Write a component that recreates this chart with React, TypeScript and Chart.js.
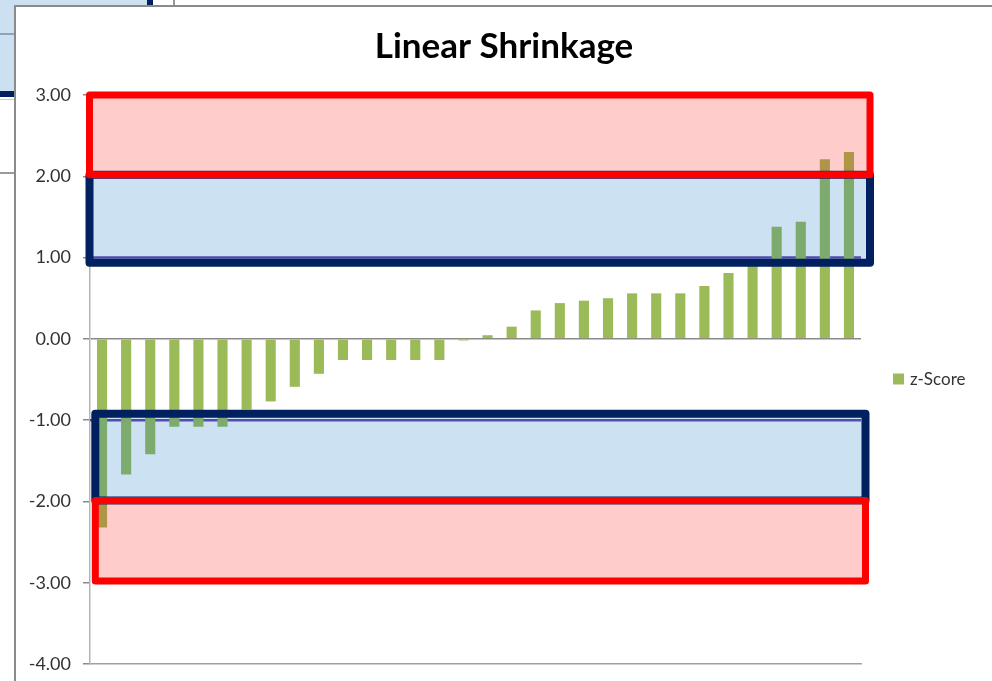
import React, { useEffect, useRef } from "react";
import { Chart, registerables } from "chart.js";

Chart.register(...registerables);

// Samples ordered by z-score
const categories = [
  "1", "2", "3", "4", "5", "6", "7", "8", "9", "10", "11", "12", "13", "14", "15", "16",
  "17", "18", "19", "20", "21", "22", "23", "24", "25", "26", "27", "28", "29", "30", "31", "32",
];
const zScores = [
  -2.32, -1.67, -1.42, -1.08, -1.08, -1.08, -0.87, -0.77, -0.59, -0.43, -0.26, -0.26, -0.26, -0.26,
  -0.26, -0.02, 0.045, 0.15, 0.35, 0.44, 0.47, 0.5, 0.56, 0.56, 0.56, 0.65, 0.81, 0.92, 1.38, 1.44,
  2.21, 2.3,
];
const yTicks = [3, 2, 1, 0, -1, -2, -3, -4];
const thresholds = [1, -1];
const chartTitle = "Linear Shrinkage";
const seriesName = "z-Score";

// Warning (|z| 1..2) and action (|z| 2..3) bands
const bandLow = [0.935, 2.02, -1.99, -2.98];
const bandHigh = [2.02, 3.0, -0.92, -1.99];
const bandKind = ["warn", "action", "warn", "action"];

const GREEN = "#9BBB59";
const FONT = "Lato, 'Open Sans', sans-serif";

const bandStyle: Record<string, { fill: string; stroke: string; width: number }> = {
  warn: { fill: "rgba(0,112,192,0.2)", stroke: "#002060", width: 8 },
  action: { fill: "rgba(255,0,0,0.2)", stroke: "#FF0000", width: 7 },
};

const overlayPlugin = {
  id: "bandsAndLegend",
  beforeDatasetsDraw(chart: any) {
    const { ctx, chartArea, scales } = chart;
    const y = scales.y;
    ctx.save();
    ctx.strokeStyle = "#6645AA";
    ctx.lineWidth = 2.5;
    thresholds.forEach((t) => {
      const py = y.getPixelForValue(t);
      ctx.beginPath();
      ctx.moveTo(chartArea.left, py);
      ctx.lineTo(chartArea.right, py);
      ctx.stroke();
    });
    ctx.restore();
  },
  afterDatasetsDraw(chart: any) {
    const { ctx, chartArea, scales } = chart;
    const y = scales.y;
    ctx.save();
    bandLow.forEach((lo, i) => {
      const st = bandStyle[bandKind[i]];
      const upper = lo > 0;
      const x0 = chartArea.left + (upper ? -0.5 : 5.3);
      const x1 = chartArea.right + (upper ? 9 : 4.5);
      const yTop = y.getPixelForValue(bandHigh[i]);
      const yBot = y.getPixelForValue(lo);
      ctx.fillStyle = st.fill;
      ctx.fillRect(x0, yTop, x1 - x0, yBot - yTop);
      ctx.strokeStyle = st.stroke;
      ctx.lineWidth = st.width;
      ctx.lineJoin = "round";
      ctx.strokeRect(x0, yTop, x1 - x0, yBot - yTop);
    });
    ctx.restore();

    // title, centred on the whole chart window
    ctx.save();
    ctx.fillStyle = "#000";
    ctx.font = `bold 35px ${FONT}`;
    ctx.textAlign = "center";
    ctx.textBaseline = "middle";
    ctx.fillText(chartTitle, chart.width / 2, 40);
    ctx.restore();

    // legend
    const cy = (chartArea.top + chartArea.bottom) / 2;
    const lx = chartArea.right + 32;
    ctx.save();
    ctx.fillStyle = GREEN;
    ctx.fillRect(lx, cy - 6, 11, 11);
    ctx.fillStyle = "#333";
    ctx.font = `17px ${FONT}`;
    ctx.textBaseline = "middle";
    ctx.textAlign = "left";
    ctx.fillText(seriesName, lx + 17, cy);
    ctx.restore();
  },
};

function ShrinkageChart() {
  const ref = useRef<HTMLCanvasElement | null>(null);
  useEffect(() => {
    if (!ref.current) return;
    const chart = new Chart(ref.current, {
      type: "bar",
      data: {
        labels: categories,
        datasets: [
          {
            label: seriesName,
            data: zScores,
            backgroundColor: GREEN,
            borderWidth: 0,
            barPercentage: 0.42,
            categoryPercentage: 1,
          },
        ],
      },
      options: {
        responsive: false,
        animation: false,
        layout: { padding: { left: 0, right: 131, top: 88, bottom: 17 } },
        plugins: {
          legend: { display: false },
          tooltip: { enabled: false },
          title: { display: false },
        },
        scales: {
          x: {
            ticks: { display: false },
            grid: { display: false, drawTicks: false },
            border: { display: true, color: "#A0A0A0", width: 1.5 },
            afterFit(scale: any) {
              scale.height = 0;
              scale.paddingLeft = 0;
              scale.paddingRight = 0;
            },
          },
          y: {
            min: -4,
            max: 3,
            afterFit(scale: any) {
              scale.width = 74;
              scale.paddingTop = 0;
              scale.paddingBottom = 0;
            },
            afterBuildTicks(scale: any) {
              scale.ticks = yTicks.map((v) => ({ value: v }));
            },
            ticks: {
              color: "#333",
              font: { family: FONT, size: 18 },
              padding: 12,
              callback: (v: any) => Number(v).toFixed(2),
            },
            grid: {
              drawOnChartArea: true,
              color: (c: any) => (c.tick && c.tick.value === 0 ? "#8A8A8A" : "rgba(0,0,0,0)"),
              tickColor: "#8A8A8A",
              tickLength: 7,
              lineWidth: 1.5,
            },
            border: { display: true, color: "#B4B4B4", width: 1.5 },
          },
        },
      },
      plugins: [overlayPlugin],
    });
    return () => chart.destroy();
  }, []);
  return <canvas ref={ref} width={976} height={674} style={{ display: "block" }} />;
}

const abs = (s: React.CSSProperties): React.CSSProperties => ({ position: "absolute", ...s });

export default function App() {
  return (
    <div style={abs({ position: "fixed", left: 0, top: 0, width: 992, height: 681, background: "#fff", overflow: "hidden" })}>
      {/* worksheet behind the chart window */}
      <div style={abs({ left: 0, top: 0, width: 147, height: 5, background: "#CCE0F2" })} />
      <div style={abs({ left: 147, top: 0, width: 6, height: 5, background: "#002060" })} />
      <div style={abs({ left: 173, top: 0, width: 2, height: 5, background: "#9A9A9A" })} />
      <div style={abs({ left: 0, top: 0, width: 14, height: 91, background: "#CCE0F2" })} />
      <div style={abs({ left: 0, top: 33, width: 14, height: 2, background: "#8FA3B8" })} />
      <div style={abs({ left: 0, top: 91, width: 14, height: 6, background: "#002060" })} />
      <div style={abs({ left: 0, top: 99, width: 14, height: 1, background: "#C8C8C8" })} />
      <div style={abs({ left: 0, top: 172, width: 14, height: 2, background: "#9A9A9A" })} />
      {/* chart window */}
      <div
        style={abs({
          left: 14,
          top: 5,
          right: 0,
          bottom: 0,
          borderLeft: "2px solid #8A8A8A",
          borderTop: "2px solid #8A8A8A",
          background: "#fff",
        })}
      >
        <ShrinkageChart />
      </div>
    </div>
  );
}
